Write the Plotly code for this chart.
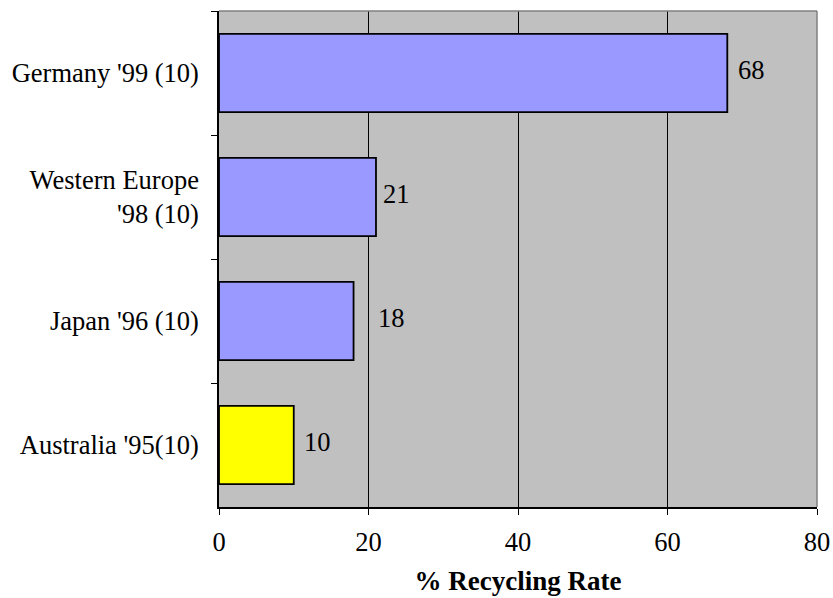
import plotly.graph_objects as go

categories = ["Germany '99 (10)", "Western Europe<br>'98 (10)", "Japan '96 (10)", "Australia '95(10)"]
values = [68, 21, 18, 10]
bar_colors = ["#9999FF", "#9999FF", "#9999FF", "#FFFF00"]
label_xshift = [9, 5, 22, 8]
x_ticks = [0, 20, 40, 60, 80]

FONT = "Liberation Serif"
FS = 26.5

fig = go.Figure()
fig.add_trace(go.Bar(
    y=categories, x=values, orientation="h",
    marker=dict(color=bar_colors, line=dict(color="black", width=1.8)),
    hoverinfo="skip",
))

for c, v, s in zip(categories, values, label_xshift):
    fig.add_annotation(x=v, y=c, xref="x", yref="y", text=str(v), showarrow=False,
                       xanchor="left", yanchor="middle", xshift=s, yshift=3,
                       font=dict(family=FONT, size=FS, color="black"))

fig.update_layout(
    width=833, height=598,
    margin=dict(l=219, r=16, t=11, b=91, autoexpand=False),
    paper_bgcolor="white", plot_bgcolor="#C0C0C0",
    bargap=0.37, showlegend=False,
    font=dict(family=FONT, size=FS, color="black"),
    shapes=[
        dict(type="line", xref="paper", yref="paper", x0=0, x1=1, y0=1, y1=1,
             line=dict(color="#808080", width=1.5)),
        dict(type="line", xref="paper", yref="paper", x0=1, x1=1, y0=0, y1=1,
             line=dict(color="#808080", width=1.5)),
    ],
)
fig.update_xaxes(
    range=[0, 80], tickvals=x_ticks, ticks="outside", ticklen=6, tickcolor="black",
    showline=True, linecolor="black", linewidth=1.5, automargin=False,
    showgrid=True, gridcolor="black", gridwidth=1, zeroline=False,
    tickfont=dict(family=FONT, size=FS, color="black"), ticklabelstandoff=4,
    title=dict(text="<b>% Recycling Rate</b>", font=dict(family=FONT, size=27, color="black"), standoff=16),
)
fig.update_yaxes(
    categoryorder="array", categoryarray=categories, autorange="reversed",
    ticks="outside", ticklen=6, tickcolor="black", tickson="boundaries",
    showline=True, linecolor="black", linewidth=1.5, showgrid=False, automargin=False,
    tickfont=dict(family=FONT, size=FS, color="black"), ticklabelstandoff=13,
)

fig.write_html("out.html")
